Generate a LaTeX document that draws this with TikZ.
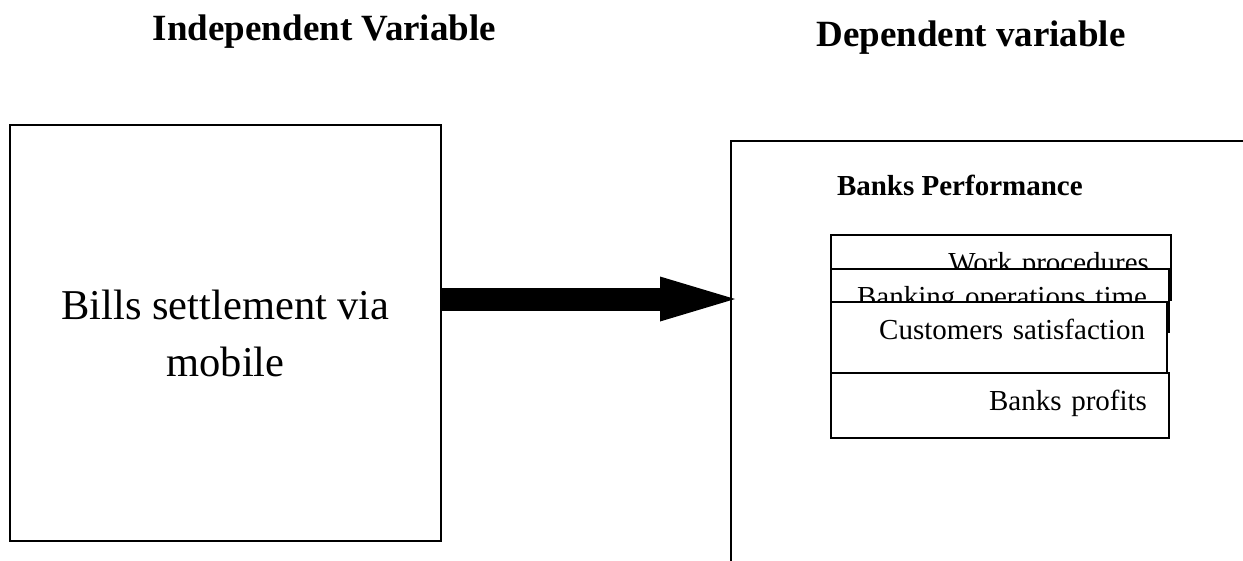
\documentclass[tikz,border=0pt]{standalone}
\usepackage{fontspec}
\setmainfont{Liberation Serif}
\usetikzlibrary{positioning,arrows.meta}

\begin{document}
\begin{tikzpicture}[x=1pt, y=-1pt, outer sep=0pt]
		% Styles
		\tikzset{
			heading/.style={font=\fontsize{37}{44}\selectfont\bfseries, anchor=base, inner sep=0pt},
			bigbox/.style={draw, line width=1.8pt, anchor=north west, inner sep=0pt},
			item/.style={draw, fill=white, line width=1.5pt, anchor=north west, inner xsep=22pt, inner ysep=0pt, align=right, text height=37pt, font=\fontsize{29}{34}\selectfont},
			bigarrow/.style={line width=23pt, -{Triangle[length=75pt, width=45pt, line width=0pt]}}
		}
		\clip (0,0) rectangle (1243,560);
		
		% Headings
		\node[heading] (indep) at (324.5,40) {Independent Variable};
		\node[heading] (dep) at (971,46) {Dependent variable};
		
		% Boxes
		\node[bigbox, minimum width=431pt, minimum height=416pt, align=center, font=\fontsize{42.5}{57}\selectfont] (bills) at (10,125) {Bills settlement via\\mobile};
		\node[bigbox, minimum width=540pt, minimum height=440pt] (perf) at (731,141) {};
		\node[font=\fontsize{29}{34}\selectfont\bfseries, anchor=base west, inner sep=0pt] (perftitle) at (837,195) {Banks Performance};
		
		% Items
		\node[item, text width=296pt, text depth=28pt] (work) at (831,235) {Work procedures};
		\node[item, text width=294pt, text depth=26pt] (optime) at (831,269) {Banking operations time};
		\node[item, text width=292pt, text depth=34pt] (csat) at (831,302) {Customers satisfaction};
		\node[item, text width=294pt, text depth=28pt] (profits) at (csat.south west) {Banks profits};
		
		% Arrow
		\coordinate (tip) at (735,299);
		\draw[bigarrow] (bills.east |- tip) -- (tip);
	\end{tikzpicture}
\end{document}
